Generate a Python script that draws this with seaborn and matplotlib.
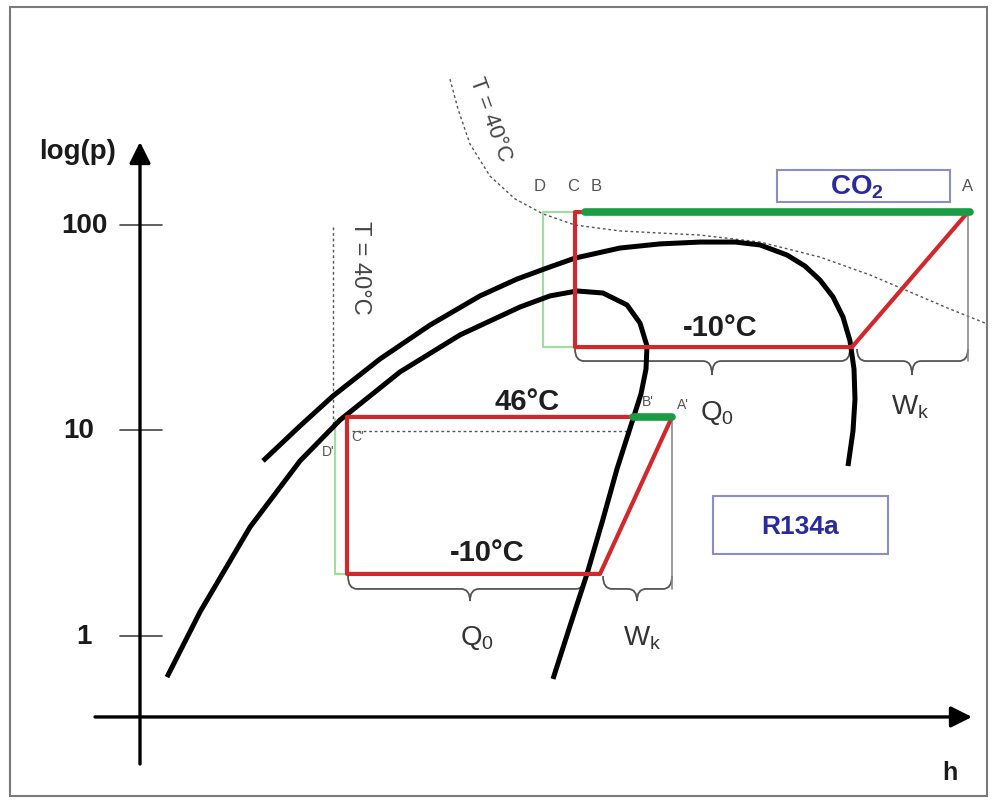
import numpy as np
import pandas as pd
import matplotlib
matplotlib.use("Agg")
import matplotlib.pyplot as plt
import seaborn as sns
from matplotlib.patches import Rectangle, PathPatch
from matplotlib.path import Path

sns.set_style("white")
plt.rcParams["font.family"] = ["Liberation Sans", "DejaVu Sans"]
plt.rcParams["mathtext.fontset"] = "custom"
plt.rcParams["mathtext.rm"] = "Liberation Sans"
plt.rcParams["mathtext.bf"] = "Liberation Sans:bold"

# ---------------- data (h in arbitrary units, y = log10(p)) ----------------
co2_dome_h = [263, 300, 333, 380, 430, 480, 517, 550, 575, 620, 660, 700, 735,
              760, 787, 805, 820, 833, 843, 850, 854, 855, 853, 848]
co2_dome_logp = [0.852, 1.022, 1.168, 1.348, 1.513, 1.655, 1.737, 1.796, 1.839,
                 1.888, 1.908, 1.917, 1.917, 1.903, 1.854, 1.800, 1.732, 1.650,
                 1.552, 1.436, 1.299, 1.153, 0.998, 0.827]

r134a_dome_h = [167, 200, 250, 300, 340, 400, 460, 520, 550, 577, 603, 627, 640,
                647, 646, 641, 633, 617, 603, 587, 570, 553]
r134a_dome_logp = [-0.200, 0.117, 0.530, 0.852, 1.051, 1.285, 1.465, 1.601,
                   1.655, 1.679, 1.669, 1.611, 1.523, 1.411, 1.299, 1.178,
                   1.056, 0.813, 0.569, 0.302, 0.049, -0.209]

co2_iso40_h = [450, 458, 470, 490, 515, 543, 575, 620, 700, 760, 820, 870, 910,
               950, 985]
co2_iso40_logp = [2.710, 2.564, 2.394, 2.238, 2.127, 2.054, 2.000, 1.971, 1.951,
                  1.917, 1.844, 1.757, 1.674, 1.591, 1.523]

r134a_iso40_h = [333, 333]
r134a_iso40_logp = [1.990, 1.007]
r134a_isobar40_h = [352, 630]
r134a_isobar40_logp = [0.998, 0.998]

co2_cycle_h = [585, 575, 575, 852, 968]
co2_cycle_logp = [2.063, 2.063, 1.406, 1.406, 2.063]
co2_gas_h = [585, 970]
co2_gas_logp = [2.063, 2.063]
co2_ref_h = [575, 543, 543, 575]
co2_ref_logp = [1.406, 1.406, 2.063, 2.063]

r134a_cycle_h = [633, 347, 347, 600, 672]
r134a_cycle_logp = [1.066, 1.066, 0.302, 0.302, 1.066]
r134a_gas_h = [633, 672]
r134a_gas_logp = [1.066, 1.066]
r134a_ref_h = [347, 335, 335]
r134a_ref_logp = [0.302, 0.302, 1.056]

# braces: x0, x1, xmid, y_end, y_flat, y_tip, label, label_x, label_y
braces = [
    (575, 850, 712, 1.397, 1.338, 1.270, r"Q$_\mathrm{0}$", 717, 1.090),
    (857, 968, 912, 1.397, 1.338, 1.270, r"W$_\mathrm{k}$", 910, 1.119),
    (348, 585, 470, 0.292, 0.229, 0.170, r"Q$_\mathrm{0}$", 477, -0.005),
    (603, 672, 637, 0.292, 0.229, 0.170, r"W$_\mathrm{k}$", 642, -0.005),
]

tick_values = [0, 1, 2]
tick_labels = ["1", "10", "100"]

# ---------------- figure ----------------
fig = plt.figure(figsize=(9.92, 8.04), dpi=100)
ax = fig.add_axes([0, 0, 1, 1])
ax.set_xlim(0, 992)
ax.set_ylim(-0.8127, 3.0998)
ax.axis("off")

fig.patches.append(Rectangle((10 / 992, 7 / 804), 977 / 992, 789 / 804,
                             transform=fig.transFigure, fill=False,
                             edgecolor="#7a7a7a", linewidth=1.5))

def line(h, y, **kw):
    sns.lineplot(x=h, y=y, sort=False, estimator=None, ax=ax, **kw)

dot = dict(color="#555555", linewidth=1.0, linestyle=(0, (2, 2)))
line(co2_iso40_h, co2_iso40_logp, **dot)
line(r134a_iso40_h, r134a_iso40_logp, **dot)
line(r134a_isobar40_h, r134a_isobar40_logp, **dot)

# light green reference lines
line(co2_ref_h, co2_ref_logp, color="#9be09b", linewidth=1.5)
line(r134a_ref_h, r134a_ref_logp, color="#9be09b", linewidth=1.5)

# gray verticals to braces
line([968, 968], [2.063, 1.338], color="#8a8a8a", linewidth=1.2)
line([672, 672], [1.066, 0.229], color="#8a8a8a", linewidth=1.2)

# dome curves
line(co2_dome_h, co2_dome_logp, color="black", linewidth=3.6,
     solid_capstyle="butt", solid_joinstyle="round")
line(r134a_dome_h, r134a_dome_logp, color="black", linewidth=3.6,
     solid_capstyle="butt", solid_joinstyle="round")

# cycles
red = "#d3282b"
line(co2_cycle_h, co2_cycle_logp, color=red, linewidth=3.0)
line(r134a_cycle_h, r134a_cycle_logp, color=red, linewidth=3.0)
green = "#1a9c45"
line(co2_gas_h, co2_gas_logp, color=green, linewidth=5.5)
line(r134a_gas_h, r134a_gas_logp, color=green, linewidth=5.5)

# braces
for x0, x1, xm, ye, yf, yt, lab, lx, ly in braces:
    d = 9
    verts = [(x0, ye), (x0, yf), (x0 + d, yf),
             (xm - d, yf), (xm, yf), (xm, yt),
             (xm, yf), (xm + d, yf),
             (x1 - d, yf), (x1, yf), (x1, ye)]
    codes = [Path.MOVETO, Path.CURVE3, Path.CURVE3,
             Path.LINETO, Path.CURVE3, Path.CURVE3,
             Path.CURVE3, Path.CURVE3,
             Path.LINETO, Path.CURVE3, Path.CURVE3]
    ax.add_patch(PathPatch(Path(verts, codes), fill=False,
                           edgecolor="#555555", linewidth=1.3))
    ax.text(lx, ly, lab, fontsize=20, color="#333333", ha="center", va="center")

# axes arrows
ax.annotate("", xy=(140, 2.404), xytext=(140, -0.623),
            arrowprops=dict(arrowstyle="-|>", color="black", lw=2.4,
                            mutation_scale=32, shrinkA=0, shrinkB=0))
ax.annotate("", xy=(972, -0.394), xytext=(95, -0.394),
            arrowprops=dict(arrowstyle="-|>", color="black", lw=2.4,
                            mutation_scale=32, shrinkA=0, shrinkB=0))
for v, lab, lx in zip(tick_values, tick_labels, [92, 94, 108]):
    line([120, 162], [v, v], color="#444444", linewidth=1.2)
    ax.text(lx, v, lab, fontsize=20, fontweight="bold", color="#1a1a1a",
            ha="right", va="center")
ax.text(78, 2.360, "log(p)", fontsize=20, fontweight="bold", color="#1a1a1a",
        ha="center", va="center")
ax.text(950, -0.662, "h", fontsize=18, fontweight="bold", color="#1a1a1a",
        ha="center", va="center")

# temperature labels
bold = dict(fontsize=21, fontweight="bold", color="#1e1e1e", ha="center",
            va="center")
ax.text(527, 1.144, "46°C", **bold)
ax.text(487, 0.409, "-10°C", **bold)
ax.text(720, 1.504, "-10°C", **bold)

ax.text(490, 2.516, "T = 40°C", fontsize=16, color="#444444", rotation=-70,
        ha="center", va="center", rotation_mode="anchor")
ax.text(360, 1.796, "T = 40°C", fontsize=17, color="#444444", rotation=-90,
        ha="center", va="center", rotation_mode="anchor")

# point labels
small = dict(fontsize=12, color="#555555", ha="center", va="center")
for lab, x in zip(["D", "C", "B", "A"], [540, 573, 596, 968]):
    ax.text(x, 2.190, lab, **small)
tiny = dict(fontsize=10, color="#555555", ha="center", va="center")
ax.text(648, 1.144, "B'", **tiny)
ax.text(683, 1.129, "A'", **tiny)
ax.text(328, 0.900, "D'", **tiny)
ax.text(358, 0.973, "C'", **tiny)

# substance boxes
box_col = "#8c8cc8"
ax.add_patch(Rectangle((777, 2.112), 173, 0.156, fill=False,
                       edgecolor=box_col, linewidth=1.5))
ax.text(857, 2.190, r"$\mathbf{CO_2}$", fontsize=20, color="#2a2a9e",
        ha="center", va="center")
ax.add_patch(Rectangle((713, 0.399), 175, 0.282, fill=False,
                       edgecolor=box_col, linewidth=1.5))
ax.text(800, 0.535, "R134a", fontsize=19, fontweight="bold", color="#2a2a9e",
        ha="center", va="center")

fig.savefig("out.png", dpi=100)
